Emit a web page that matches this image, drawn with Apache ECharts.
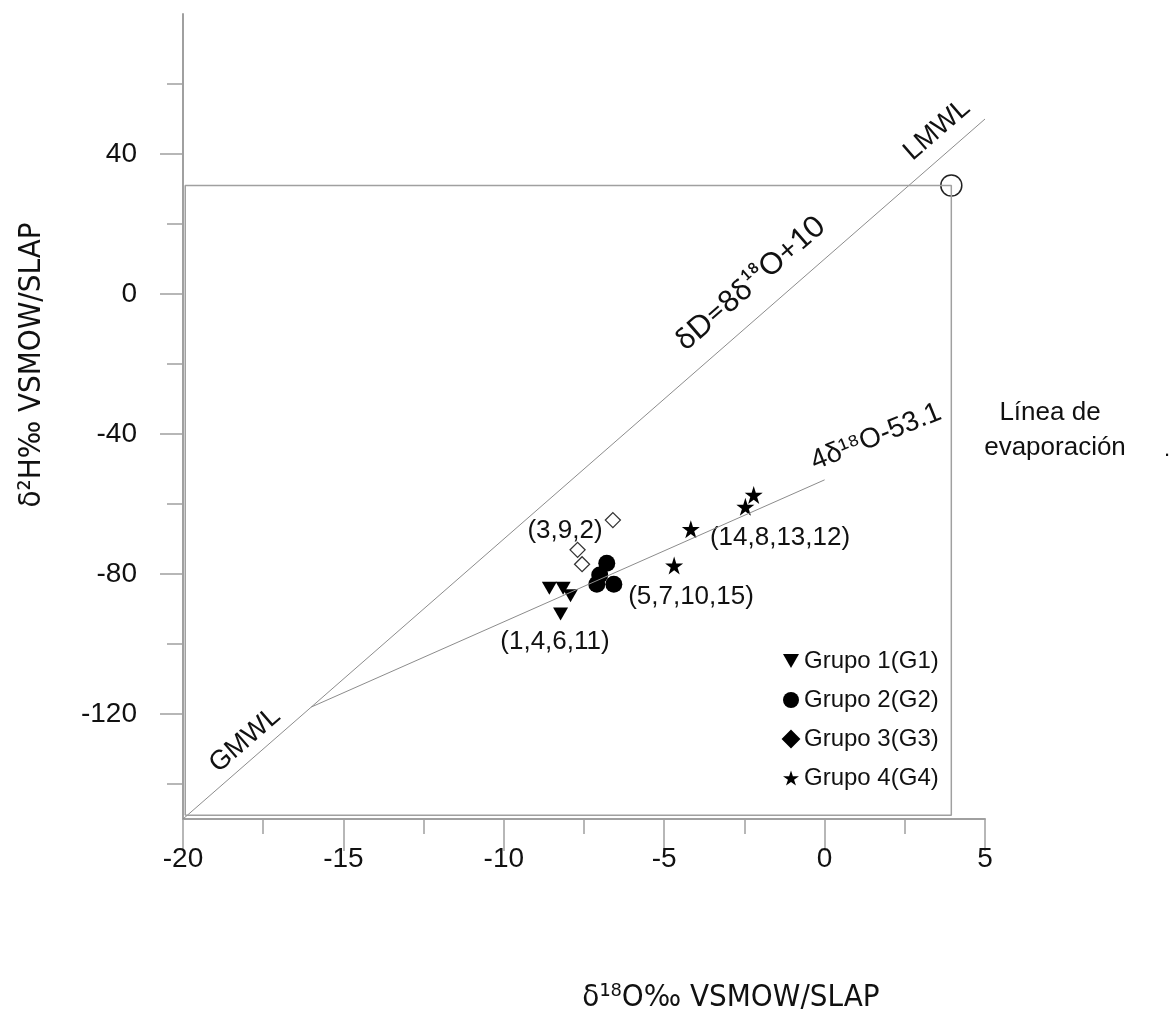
<!DOCTYPE html>
<html>
<head>
<meta charset="utf-8">
<script src="https://cdn.jsdelivr.net/npm/echarts@6/dist/echarts.min.js"></script>
<style>
html,body{margin:0;padding:0;background:#fff;}
#chart{width:1174px;height:1017px;}
</style>
</head>
<body>
<div id="chart"></div>
<script>
// ---- data ----
const group1 = [[-8.58,-84.1],[-8.15,-84.1],[-7.92,-86.2],[-8.23,-91.4]];
const group2 = [[-6.79,-76.9],[-7.01,-80.3],[-7.10,-82.9],[-6.57,-82.9]];
const group3 = [[-6.60,-64.6],[-7.70,-73.1],[-7.56,-77.2]];
const group4 = [[-2.21,-57.4],[-2.47,-60.8],[-4.17,-67.2],[-4.69,-77.6]];
const lmwl = [[-20,-150],[5,50]];
const evapLine = [[-16,-118],[0,-53.1]];
const refPoint = [[3.95,31]];
const refBox = [[-19.93,-148.9],[-19.93,31],[3.95,31],[3.95,-148.9],[-19.93,-148.9]];
const groupNames = ['Grupo 1(G1)','Grupo 2(G2)','Grupo 3(G3)','Grupo 4(G4)'];
const xMajorTicks = [-20,-15,-10,-5,0,5];
const xMinorTicks = [-17.5,-12.5,-7.5,-2.5,2.5];
const yMajorTicks = [-120,-80,-40,0,40];
const yMinorTicks = [-140,-100,-60,-20,20,60];

const TRI_DOWN = 'path://M0,0 L10,0 L5,8.66 Z';
const STAR = 'path://M100,0 L122.45,69.1 L195.1,69.1 L136.3,111.8 L158.8,180.9 L100,138.2 L41.2,180.9 L63.7,111.8 L4.9,69.1 L77.55,69.1 Z';

const AX = '#a0a0a0';
const LN = '#8c8c8c';
const FONT = '"Liberation Sans", Arial, sans-serif';
const TFONT = '"DejaVu Sans Condensed", "Liberation Sans Narrow", "Noto Sans", sans-serif';
const deg = Math.PI/180;

const chart = echarts.init(document.getElementById('chart'), null, {renderer:'canvas'});

function txt(text, x, y, size, rot, family){
  return {type:'text', x:x, y:y, rotation:(rot||0)*deg,
    style:{text:text, fontSize:size, fontFamily:family||FONT, fill:'#111', align:'center', verticalAlign:'middle'}};
}

chart.setOption({
  backgroundColor:'#fff',
  animation:false,
  grid:{left:183, right:189, top:14, bottom:198, containLabel:false},
  xAxis:[{
    type:'value', min:-20, max:5, interval:5, position:'bottom',
    axisLine:{show:true, onZero:false, lineStyle:{color:AX, width:2}},
    axisTick:{show:true, length:32, customValues:xMajorTicks, lineStyle:{color:AX, width:1.5}},
    splitLine:{show:false},
    axisLabel:{fontSize:28, fontFamily:FONT, color:'#111', margin:26, customValues:xMajorTicks}
  },{
    type:'value', min:-20, max:5, position:'bottom', offset:0,
    axisLine:{show:false, onZero:false},
    axisTick:{show:true, length:15, customValues:xMinorTicks, lineStyle:{color:AX, width:1.5}},
    axisLabel:{show:false},
    splitLine:{show:false}
  }],
  yAxis:[{
    type:'value', min:-150, max:80,
    axisLine:{show:true, onZero:false, lineStyle:{color:AX, width:2}},
    axisTick:{show:true, length:23, customValues:yMajorTicks, lineStyle:{color:AX, width:1.5}},
    splitLine:{show:false},
    axisLabel:{fontSize:28, fontFamily:FONT, color:'#111', margin:46, customValues:yMajorTicks}
  },{
    type:'value', min:-150, max:80, position:'left', offset:0,
    axisLine:{show:false, onZero:false},
    axisTick:{show:true, length:16, customValues:yMinorTicks, lineStyle:{color:AX, width:1.5}},
    axisLabel:{show:false},
    splitLine:{show:false}
  }],
  legend:{
    orient:'vertical', left:777, top:644, itemWidth:16, itemHeight:16, itemGap:15,
    textStyle:{fontSize:24, fontFamily:FONT, color:'#111', lineHeight:24},
    data:[
      {name:groupNames[0], icon:TRI_DOWN, itemStyle:{color:'#000', opacity:1}},
      {name:groupNames[1], icon:'circle', itemStyle:{color:'#000', opacity:1}},
      {name:groupNames[2], icon:'diamond', itemStyle:{color:'#000', borderColor:'#000', opacity:1}},
      {name:groupNames[3], icon:STAR, itemStyle:{color:'#000', opacity:1}}
    ]
  },
  series:[
    {type:'line', data:lmwl, showSymbol:false, symbol:'none', lineStyle:{color:LN, width:1}, silent:true},
    {type:'line', data:evapLine, showSymbol:false, symbol:'none', lineStyle:{color:LN, width:1}, silent:true},
    {type:'line', data:refBox, showSymbol:false, symbol:'none', lineStyle:{color:AX, width:1.5}, silent:true},
    {type:'scatter', data:refPoint, symbol:'circle', symbolSize:21,
      itemStyle:{color:'rgba(0,0,0,0)', borderColor:'#222', borderWidth:1.5, opacity:1}},
    {name:groupNames[0], type:'scatter', data:group1, symbol:TRI_DOWN, symbolSize:[15,13], itemStyle:{color:'#000', opacity:1}},
    {name:groupNames[1], type:'scatter', data:group2, symbol:'circle', symbolSize:17, itemStyle:{color:'#000', opacity:1}},
    {name:groupNames[2], type:'scatter', data:group3, symbol:'diamond', symbolSize:15,
      itemStyle:{color:'#fff', borderColor:'#333', borderWidth:1.3, opacity:1}},
    {name:groupNames[3], type:'scatter', data:group4, symbol:STAR, symbolSize:18, itemStyle:{color:'#000', opacity:1}}
  ],
  graphic:[
    txt('LMWL', 937, 130, 27, 41),
    txt('δD=8δ¹⁸O+10', 750, 283, 30, 41, 'Lato, "Open Sans", sans-serif'),
    txt('4δ¹⁸O-53.1', 876, 437, 28, 22),
    txt('GMWL', 245, 740, 27, 41),
    txt('Línea de', 1050, 413, 26),
    txt('evaporación', 1055, 448, 26),
    txt('.', 1167, 450, 22),
    txt('(3,9,2)', 565, 531, 26),
    txt('(14,8,13,12)', 780, 538, 26),
    txt('(5,7,10,15)', 691, 597, 26),
    txt('(1,4,6,11)', 555, 642, 26),
    txt('δ¹⁸O‰ VSMOW/SLAP', 731, 998, 31, 0, TFONT),
    txt('δ²H‰ VSMOW/SLAP', 32, 365, 31, 90, TFONT)
  ]
});
</script>
</body>
</html>
